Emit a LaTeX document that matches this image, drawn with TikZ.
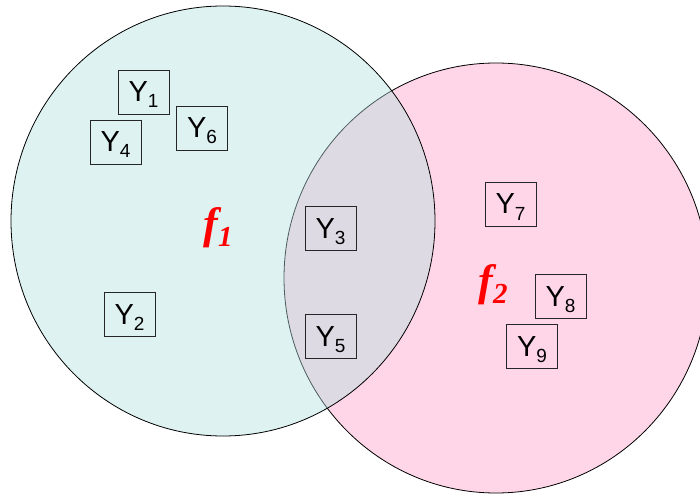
\documentclass[tikz,border=0pt]{standalone}
\usepackage{fontspec}
\setmainfont{Liberation Sans}
\newfontfamily\flabelfont{Liberation Serif}
\usetikzlibrary{positioning}

\definecolor{setone}{RGB}{177,224,224}
\definecolor{settwo}{RGB}{255,214,232}
\definecolor{flabel}{RGB}{255,0,0}

\newcommand\ysub[1]{Y\raisebox{-6pt}{\fontsize{19}{20}\selectfont #1}}
\newcommand\fsub[1]{{\flabelfont\bfseries\itshape\fontsize{44}{46}\selectfont f\raisebox{-8pt}{\fontsize{29}{30}\selectfont #1}}}

\tikzset{
	ybox/.style={draw=black!85,line width=0.8pt,minimum width=51pt,minimum height=44pt,inner sep=0pt,text height=23pt,text depth=3pt,font=\fontsize{29}{30}\selectfont},
	fname/.style={text=flabel,inner sep=0pt}
}

\begin{document}
\begin{tikzpicture}[x=1pt,y=-1pt]
	\useasboundingbox (0,0) rectangle (700,494);

	\fill[settwo] (496,278) ellipse [x radius=212pt,y radius=215pt];
	\draw[line width=0.8pt] (496,278) ellipse [x radius=212pt,y radius=215pt];
	\fill[setone,fill opacity=0.42] (223,221) ellipse [x radius=212pt,y radius=215pt];
	\draw[line width=0.8pt] (223,221) ellipse [x radius=212pt,y radius=215pt];

	\foreach \i/\x/\y in {1/143.5/92,2/129.5/314.5,3/330.5/228.5,4/115.5/142,5/330.5/336,6/202/128,7/510.5/204,8/560.5/296,9/532/346.5} {
		\node[ybox] (y\i) at (\x,\y) {\ysub{\i}};
	}

	\node[fname] (f1) at (218,228) {\fsub{1}};
	\node[fname] (f2) at (493,285) {\fsub{2}};
\end{tikzpicture}
\end{document}
